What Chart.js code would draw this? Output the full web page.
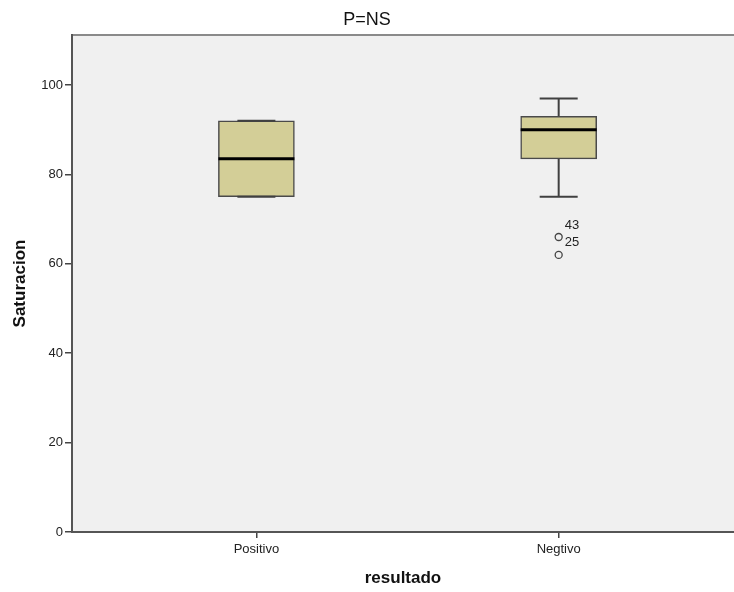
<!DOCTYPE html>
<html>
<head>
<meta charset="utf-8">
<script src="https://cdn.jsdelivr.net/npm/chart.js@4"></script>
<style>
  html, body { margin: 0; padding: 0; background: #fff; overflow: hidden; }
  #wrap { width: 734px; height: 592px; }
</style>
</head>
<body>
<div id="wrap"><canvas id="chart" width="734" height="592"></canvas></div>
<script>
// data
const categories = ["Positivo", "Negtivo"];
const whiskerMin = [75, 75];
const q1 = [75, 83.5];
const median = [83.5, 90];
const q3 = [92, 93];
const whiskerMax = [92, 97];
const outlierCat = [2, 2];
const outlierVals = [66, 62];
const outlierLabels = ["43", "25"];
const yTicks = [0, 20, 40, 60, 80, 100];

const FONT = "'Liberation Sans', Arial, sans-serif";

// plot background + top frame line
const frame = {
  id: "frame",
  beforeDraw(chart) {
    const { ctx, chartArea: a } = chart;
    ctx.save();
    ctx.fillStyle = "#f0f0f0";
    ctx.fillRect(a.left, a.top, a.right - a.left, a.bottom - a.top);
    ctx.strokeStyle = "#8a8a8a";
    ctx.lineWidth = 2;
    ctx.beginPath();
    ctx.moveTo(a.left, a.top);
    ctx.lineTo(a.right, a.top);
    ctx.stroke();
    ctx.restore();
  }
};

// whiskers, medians and outlier labels
const boxParts = {
  id: "boxParts",
  beforeDatasetsDraw(chart) {
    const { ctx, scales: { x, y } } = chart;
    ctx.save();
    ctx.strokeStyle = "#404040";
    ctx.lineWidth = 2;
    categories.forEach((c, i) => {
      const cx = x.getPixelForValue(i + 1);
      ctx.beginPath();
      ctx.moveTo(cx, y.getPixelForValue(q3[i]));
      ctx.lineTo(cx, y.getPixelForValue(whiskerMax[i]));
      ctx.moveTo(cx, y.getPixelForValue(q1[i]));
      ctx.lineTo(cx, y.getPixelForValue(whiskerMin[i]));
      ctx.stroke();
    });
    ctx.restore();
  },
  afterDatasetsDraw(chart) {
    const { ctx, scales: { x, y } } = chart;
    ctx.save();
    categories.forEach((c, i) => {
      const cx = x.getPixelForValue(i + 1);
      ctx.strokeStyle = "#404040";
      ctx.lineWidth = 2;
      ctx.beginPath();
      [whiskerMin[i], whiskerMax[i]].forEach(v => {
        const py = y.getPixelForValue(v);
        ctx.moveTo(cx - 19, py);
        ctx.lineTo(cx + 19, py);
      });
      ctx.stroke();
      ctx.strokeStyle = "#000";
      ctx.lineWidth = 3;
      ctx.beginPath();
      const my = y.getPixelForValue(median[i]);
      ctx.moveTo(cx - 38, my);
      ctx.lineTo(cx + 38, my);
      ctx.stroke();
    });
    ctx.fillStyle = "#222";
    ctx.font = "13px " + FONT;
    ctx.textAlign = "left";
    ctx.textBaseline = "middle";
    outlierVals.forEach((v, i) => {
      const px = x.getPixelForValue(outlierCat[i]);
      const py = y.getPixelForValue(v);
      ctx.fillText(outlierLabels[i], px + 6, py - 12);
    });
    ctx.restore();
  }
};

new Chart(document.getElementById("chart"), {
  type: "bar",
  data: {
    datasets: [
      {
        type: "bar",
        data: categories.map((c, i) => ({ x: i + 1, y: [q1[i], q3[i]] })),
        backgroundColor: "#d3ce97",
        borderColor: "#4a4a4a",
        borderWidth: 1.5,
        borderSkipped: false,
        barThickness: 76,
        grouped: false
      },
      {
        type: "scatter",
        data: outlierVals.map((v, i) => ({ x: outlierCat[i], y: v })),
        pointStyle: "circle",
        pointRadius: 3.5,
        borderColor: "#444",
        backgroundColor: "rgba(0,0,0,0)",
        borderWidth: 1.3
      }
    ]
  },
  options: {
    responsive: false,
    animation: false,
    layout: { padding: 0, autoPadding: false },
    plugins: {
      legend: { display: false },
      tooltip: { enabled: false },
      title: {
        display: true,
        text: "P=NS",
        color: "#111",
        font: { family: FONT, size: 18, weight: "normal" },
        padding: { top: 9, bottom: 4.4 }
      }
    },
    scales: {
      x: {
        type: "linear",
        min: 0.39,
        max: 2.58,
        offset: false,
        afterBuildTicks: s => { s.ticks = categories.map((c, i) => ({ value: i + 1 })); },
        afterFit: s => { s.height = 60; },
        grid: { offset: false, drawOnChartArea: false, drawTicks: true, tickLength: 6, tickColor: "#444", lineWidth: 1.5 },
        border: { display: true, color: "#555", width: 2 },
        ticks: {
          autoSkip: false,
          maxRotation: 0,
          padding: 4,
          color: "#222",
          font: { family: FONT, size: 13 },
          callback: v => categories[v - 1]
        },
        title: {
          display: true,
          text: "resultado",
          color: "#111",
          font: { family: FONT, size: 17, weight: "bold" },
          padding: { top: 0, bottom: 3 }
        }
      },
      y: {
        min: 0,
        max: 111.2,
        afterBuildTicks: s => { s.ticks = yTicks.map(v => ({ value: v })); },
        afterFit: s => { s.width = 72; },
        grid: { drawOnChartArea: false, drawTicks: true, tickLength: 7, tickColor: "#444", lineWidth: 1.5 },
        border: { display: true, color: "#555", width: 2 },
        ticks: {
          padding: 2,
          color: "#222",
          font: { family: FONT, size: 13 }
        },
        title: {
          display: true,
          text: "Saturacion",
          color: "#111",
          font: { family: FONT, size: 17, weight: "bold" },
          padding: { top: 10, bottom: 0 }
        }
      }
    }
  },
  plugins: [frame, boxParts]
});
</script>
</body>
</html>
